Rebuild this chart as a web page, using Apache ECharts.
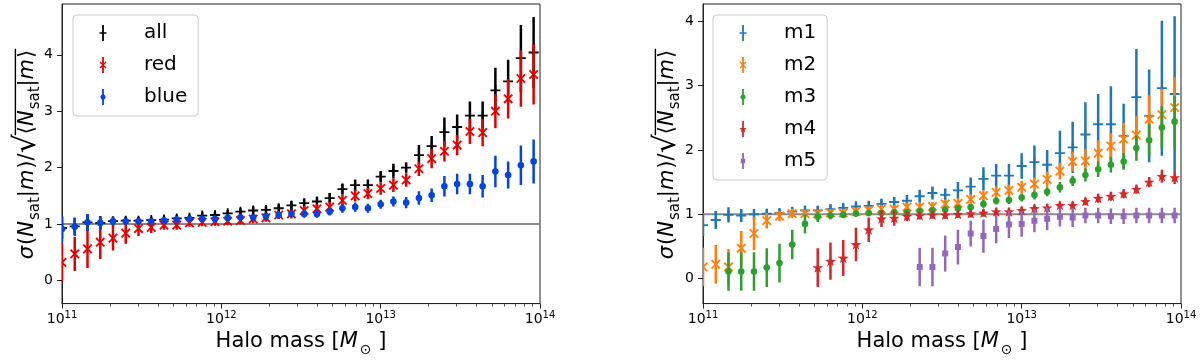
<!DOCTYPE html>
<html>
<head>
<meta charset="utf-8">
<script src="https://cdn.jsdelivr.net/npm/echarts@6.0.0/dist/echarts.min.js"></script>
<style>
  html, body { margin: 0; padding: 0; background: #fff; }
  #chart { width: 1200px; height: 362px; }
</style>
</head>
<body>
<div id="chart"></div>
<script>
// bin centres, log10(halo mass / Msun)
const logMass = [11.00, 11.08, 11.16, 11.24, 11.32, 11.40, 11.48, 11.56, 11.64, 11.72,
  11.80, 11.88, 11.96, 12.04, 12.12, 12.20, 12.28, 12.36, 12.44, 12.52,
  12.60, 12.68, 12.76, 12.84, 12.92, 13.00, 13.08, 13.16, 13.24, 13.32,
  13.40, 13.48, 13.56, 13.64, 13.72, 13.80, 13.88, 13.96];

// left panel: colour split
const allVals = [0.93, 0.96, 1.03, 1.02, 1.05, 1.06, 1.06, 1.07, 1.08, 1.10, 1.11, 1.15, 1.16, 1.19, 1.22, 1.24, 1.25, 1.28, 1.33, 1.37,
  1.40, 1.46, 1.62, 1.69, 1.69, 1.84, 1.94, 2.00, 2.22, 2.38, 2.63, 2.72, 2.92, 2.92, 3.37, 3.53, 3.94, 4.04];
const allErr = [0.20, 0.15, 0.14, 0.12, 0.08, 0.07, 0.06, 0.06, 0.06, 0.06, 0.06, 0.06, 0.06, 0.06, 0.06, 0.07, 0.07, 0.07, 0.08, 0.08,
  0.08, 0.09, 0.10, 0.10, 0.10, 0.10, 0.13, 0.09, 0.18, 0.18, 0.26, 0.22, 0.25, 0.25, 0.40, 0.38, 0.59, 0.63];
const redVals = [0.32, 0.47, 0.56, 0.68, 0.75, 0.84, 0.92, 0.94, 0.98, 0.98, 1.02, 1.03, 1.04, 1.05, 1.06, 1.09, 1.11, 1.16, 1.18, 1.24,
  1.27, 1.30, 1.42, 1.50, 1.54, 1.63, 1.69, 1.78, 1.98, 2.16, 2.29, 2.40, 2.64, 2.62, 3.00, 3.22, 3.58, 3.65];
const redErr = [0.34, 0.30, 0.34, 0.30, 0.22, 0.19, 0.13, 0.10, 0.08, 0.08, 0.07, 0.07, 0.07, 0.07, 0.07, 0.07, 0.07, 0.07, 0.08, 0.08,
  0.08, 0.09, 0.10, 0.10, 0.10, 0.11, 0.12, 0.12, 0.13, 0.17, 0.18, 0.18, 0.22, 0.24, 0.30, 0.35, 0.50, 0.53];
const blueVals = [0.91, 0.95, 1.03, 1.02, 1.05, 1.05, 1.05, 1.05, 1.06, 1.08, 1.09, 1.09, 1.09, 1.11, 1.12, 1.12, 1.14, 1.16, 1.18, 1.18,
  1.18, 1.22, 1.28, 1.30, 1.28, 1.35, 1.40, 1.38, 1.46, 1.51, 1.67, 1.71, 1.71, 1.67, 1.93, 1.87, 2.04, 2.11];
const blueErr = [0.23, 0.16, 0.15, 0.12, 0.08, 0.06, 0.06, 0.06, 0.06, 0.06, 0.06, 0.06, 0.06, 0.06, 0.06, 0.06, 0.06, 0.06, 0.06, 0.07,
  0.07, 0.07, 0.08, 0.08, 0.08, 0.08, 0.09, 0.10, 0.12, 0.12, 0.18, 0.18, 0.18, 0.20, 0.28, 0.24, 0.35, 0.39];

// right panel: magnitude bins
const m1Vals = [0.83, 0.91, 0.99, 0.98, 1.00, 1.01, 1.02, 1.04, 1.06, 1.06, 1.08, 1.10, 1.12, 1.13, 1.16, 1.19, 1.21, 1.28, 1.33, 1.30,
  1.37, 1.43, 1.55, 1.60, 1.60, 1.75, 1.81, 1.77, 1.95, 2.04, 2.24, 2.40, 2.40, 2.22, 2.82, 2.53, 2.96, 2.87];
const m1Err = [0.17, 0.14, 0.12, 0.10, 0.08, 0.07, 0.07, 0.07, 0.07, 0.07, 0.07, 0.07, 0.08, 0.08, 0.08, 0.08, 0.09, 0.10, 0.10, 0.10,
  0.13, 0.14, 0.18, 0.18, 0.18, 0.20, 0.26, 0.23, 0.35, 0.40, 0.50, 0.47, 0.59, 0.50, 0.75, 0.72, 1.05, 1.21];
const m2Vals = [0.18, 0.22, 0.18, 0.47, 0.70, 0.90, 0.97, 1.01, 1.01, 1.01, 1.02, 1.02, 1.04, 1.06, 1.08, 1.08, 1.11, 1.11, 1.12, 1.16,
  1.17, 1.23, 1.29, 1.34, 1.37, 1.42, 1.47, 1.54, 1.67, 1.82, 1.83, 1.95, 2.06, 2.17, 2.23, 2.48, 2.55, 2.66];
const m2Err = [0.30, 0.30, 0.28, 0.27, 0.26, 0.12, 0.08, 0.07, 0.06, 0.06, 0.06, 0.06, 0.06, 0.06, 0.06, 0.06, 0.07, 0.07, 0.07, 0.07,
  0.08, 0.08, 0.08, 0.09, 0.09, 0.10, 0.10, 0.12, 0.13, 0.15, 0.18, 0.20, 0.20, 0.25, 0.30, 0.37, 0.40, 0.47];
const m3Vals = [null, null, 0.11, 0.11, 0.11, 0.17, 0.24, 0.53, 0.85, 0.96, 0.98, 0.99, 1.01, 1.02, 1.02, 1.03, 1.03, 1.05, 1.06, 1.07,
  1.09, 1.11, 1.16, 1.21, 1.22, 1.26, 1.30, 1.35, 1.42, 1.52, 1.61, 1.70, 1.77, 1.82, 2.03, 2.15, 2.35, 2.44];
const m3Err = [null, null, 0.30, 0.30, 0.30, 0.30, 0.30, 0.23, 0.15, 0.08, 0.06, 0.05, 0.05, 0.05, 0.05, 0.05, 0.05, 0.05, 0.05, 0.05,
  0.05, 0.05, 0.06, 0.06, 0.06, 0.06, 0.07, 0.07, 0.08, 0.08, 0.10, 0.12, 0.12, 0.13, 0.20, 0.25, 0.33, 0.40];
const m4Vals = [null, null, null, null, null, null, null, null, null, 0.17, 0.27, 0.32, 0.53, 0.76, 0.93, 0.94, 0.97, 0.98, 0.99, 0.99,
  1.00, 1.01, 1.02, 1.04, 1.04, 1.06, 1.09, 1.10, 1.14, 1.14, 1.20, 1.25, 1.28, 1.32, 1.39, 1.50, 1.59, 1.57];
const m4Err = [null, null, null, null, null, null, null, null, null, 0.30, 0.29, 0.28, 0.26, 0.19, 0.13, 0.12, 0.08, 0.06, 0.06, 0.06,
  0.06, 0.06, 0.06, 0.06, 0.06, 0.06, 0.06, 0.06, 0.06, 0.06, 0.06, 0.07, 0.07, 0.07, 0.07, 0.08, 0.10, 0.10];
const m5Vals = [null, null, null, null, null, null, null, null, null, null, null, null, null, null, null, null, null, 0.18, 0.18, 0.39,
  0.49, 0.70, 0.66, 0.77, 0.84, 0.85, 0.90, 0.93, 0.96, 0.95, 0.98, 0.98, 0.97, 0.97, 0.98, 0.98, 0.98, 0.98];
const m5Err = [null, null, null, null, null, null, null, null, null, null, null, null, null, null, null, null, null, 0.30, 0.30, 0.28,
  0.27, 0.20, 0.26, 0.22, 0.21, 0.20, 0.18, 0.18, 0.15, 0.15, 0.12, 0.12, 0.12, 0.12, 0.12, 0.12, 0.12, 0.12];

const xTicks = [11, 12, 13, 14];
const yTicks = [0, 1, 2, 3, 4];
const refLevel = 1;

const leftSets = [
  {name: 'all', color: '#000000', marker: 'plus', y: allVals, e: allErr},
  {name: 'red', color: '#e50000', marker: 'cross', y: redVals, e: redErr},
  {name: 'blue', color: '#0343df', marker: 'dot', y: blueVals, e: blueErr}
];
const rightSets = [
  {name: 'm1', color: '#1f77b4', marker: 'plus', y: m1Vals, e: m1Err},
  {name: 'm2', color: '#ff7f0e', marker: 'cross', y: m2Vals, e: m2Err},
  {name: 'm3', color: '#2ca02c', marker: 'dot', y: m3Vals, e: m3Err},
  {name: 'm4', color: '#d62728', marker: 'star', y: m4Vals, e: m4Err},
  {name: 'm5', color: '#9467bd', marker: 'square', y: m5Vals, e: m5Err}
];

// minor ticks of a log axis (2..9 x 10^n)
const minorTicks = [];
for (let n = 11; n < 14; n++) {
  for (let m = 2; m <= 9; m++) minorTicks.push(n + Math.log10(m));
}

const FONT = '"DejaVu Sans", sans-serif';

function starPoints(cx, cy, ro, ri) {
  const pts = [];
  for (let i = 0; i < 10; i++) {
    const a = -Math.PI / 2 + i * Math.PI / 5;
    const r = i % 2 === 0 ? ro : ri;
    pts.push([cx + r * Math.cos(a), cy + r * Math.sin(a)]);
  }
  return pts;
}
function circlePoints(cx, cy, r) {
  const pts = [];
  for (let i = 0; i < 16; i++) {
    const a = i * Math.PI / 8;
    pts.push([cx + r * Math.cos(a), cy + r * Math.sin(a)]);
  }
  return pts;
}
function polyPath(pts) {
  return 'M' + pts.map(p => p[0].toFixed(2) + ',' + p[1].toFixed(2)).join('L') + 'Z';
}

// marker drawn on top of each error bar
function markerParts(kind, cx, cy, color) {
  const ln = (x1, y1, x2, y2) => ({type: 'line', shape: {x1, y1, x2, y2}, style: {stroke: color, lineWidth: 1.8}});
  if (kind === 'plus') return [ln(cx - 5, cy, cx + 5, cy), ln(cx, cy - 5, cx, cy + 5)];
  if (kind === 'cross') return [ln(cx - 4.2, cy - 4.2, cx + 4.2, cy + 4.2), ln(cx - 4.2, cy + 4.2, cx + 4.2, cy - 4.2)];
  if (kind === 'dot') return [{type: 'circle', shape: {cx, cy, r: 3.3}, style: {fill: color}}];
  if (kind === 'star') return [{type: 'polygon', shape: {points: starPoints(cx, cy + 0.5, 5.6, 2.3)}, style: {fill: color}}];
  return [{type: 'rect', shape: {x: cx - 3, y: cy - 3, width: 6, height: 6}, style: {fill: color}}];
}

// legend handle: bar plus a small marker, in an 8 x 16 box
function legendIcon(kind) {
  let p = 'M0,0M8,16M3.1,0H4.9V16H3.1Z';
  if (kind === 'plus') p += 'M0.5,7.2H7.5V8.8H0.5Z';
  else if (kind === 'cross') p += 'M1.46,4.54L7.46,10.54L6.54,11.46L0.54,5.46Z' + 'M7.46,5.46L1.46,11.46L0.54,10.54L6.54,4.54Z';
  else if (kind === 'dot') p += polyPath(circlePoints(4, 8, 2.6));
  else if (kind === 'star') p += polyPath(starPoints(4, 8.4, 3.8, 1.6));
  else p += 'M1.8,5.8H6.2V10.2H1.8Z';
  return 'path://' + p;
}

function makeSeries(set, g) {
  const data = [];
  logMass.forEach((x, i) => { if (set.y[i] != null) data.push([x, set.y[i], set.e[i]]); });
  return {
    name: set.name,
    type: 'custom',
    xAxisIndex: g * 2,
    yAxisIndex: g,
    clip: true,
    z: 3,
    itemStyle: {color: set.color},
    data: data,
    renderItem: function (params, api) {
      const x = api.value(0), y = api.value(1), e = api.value(2);
      const c = api.coord([x, y]);
      const top = api.coord([x, y + e])[1];
      const bot = api.coord([x, y - e])[1];
      const children = [{type: 'line', shape: {x1: c[0], y1: top, x2: c[0], y2: bot},
        style: {stroke: set.color, lineWidth: 2.5}}];
      return {type: 'group', children: children.concat(markerParts(set.marker, c[0], c[1], set.color))};
    }
  };
}

function refLine(g) {
  return {
    type: 'line', xAxisIndex: g * 2, yAxisIndex: g, z: 2, silent: true, symbol: 'none',
    lineStyle: {color: '#8a8a8a', width: 2},
    data: [[xTicks[0], refLevel], [xTicks[xTicks.length - 1], refLevel]]
  };
}

const grids = [
  {left: 62, top: 4, width: 478, height: 301},
  {left: 703, top: 4, width: 478, height: 301}
];
const yRanges = [[-0.41, 4.9], [-0.39, 4.27]];

const xAxes = [];
const yAxes = [];
grids.forEach((gr, g) => {
  xAxes.push({
    gridIndex: g, type: 'value', position: 'bottom', min: 11, max: 14, interval: 1,
    axisLine: {show: true, onZero: false, lineStyle: {color: '#222', width: 1}},
    axisTick: {show: true, length: 5, lineStyle: {color: '#222', width: 1}},
    splitLine: {show: false},
    axisLabel: {
      margin: 7, color: '#000',
      formatter: v => '{b|10}{p|' + v + '}',
      rich: {
        b: {fontSize: 14, lineHeight: 18, fontFamily: FONT, color: '#000'},
        p: {fontSize: 10, lineHeight: 12, verticalAlign: 'top', fontFamily: FONT, color: '#000'}
      }
    },
    name: '{rm|Halo mass [}{it|M}{sub|⊙}{rm| ]}',
    nameLocation: 'middle', nameGap: 22,
    nameTextStyle: {
      rich: {
        rm: {fontSize: 21, lineHeight: 30, fontFamily: FONT, color: '#000'},
        it: {fontSize: 21, lineHeight: 30, fontStyle: 'italic', fontFamily: FONT, color: '#000', padding: [0, 2, 0, 0]},
        sub: {fontSize: 14, lineHeight: 12, verticalAlign: 'bottom', fontFamily: FONT, color: '#000'}
      }
    }
  });
  xAxes.push({
    gridIndex: g, type: 'value', position: 'bottom', min: 11, max: 14,
    axisLine: {show: false, onZero: false},
    axisLabel: {show: false},
    splitLine: {show: false},
    axisTick: {show: true, length: 3, customValues: minorTicks, lineStyle: {color: '#222', width: 0.8}}
  });
  yAxes.push({
    gridIndex: g, type: 'value', min: yRanges[g][0], max: yRanges[g][1],
    axisLine: {show: true, onZero: false, lineStyle: {color: '#222', width: 1}},
    axisTick: {show: true, length: 5, customValues: yTicks, lineStyle: {color: '#222', width: 1}},
    splitLine: {show: false},
    axisLabel: {customValues: yTicks, fontSize: 14, fontFamily: FONT, color: '#000', margin: 9}
  });
});

// rotated y-axis title with a radical overline
const measureCtx = document.createElement('canvas').getContext('2d');
function textWidth(font, s) { measureCtx.font = font; return measureCtx.measureText(s).width; }

function yTitle(cx, cy) {
  const S = 21, SS = 15, SR = 30;
  const fonts = {
    it: 'italic ' + S + 'px ' + FONT,
    rm: S + 'px ' + FONT,
    sub: SS + 'px ' + FONT,
    rad: SR + 'px ' + FONT
  };
  const sizes = {it: S, rm: S, sub: SS, rad: SR};
  const drop = {it: 0, rm: 0, sub: 5, rad: 3};
  const pieces = [['σ', 'it'], ['(', 'rm'], ['N', 'it'], ['sat', 'sub'], ['|', 'rm'], ['m', 'it'], [')', 'rm'], ['/', 'rm'],
    ['√', 'rad'], ['⟨', 'rm'], ['N', 'it'], ['sat', 'sub'], ['|', 'rm'], ['m', 'it'], ['⟩', 'rm']];
  const widths = pieces.map(p => textWidth(fonts[p[1]], p[0]) + (p[1] === 'it' ? 1 : 0));
  const total = widths.reduce((a, b) => a + b, 0);
  const base = 6;
  let x = -total / 2;
  const children = [];
  let radEnd = 0;
  pieces.forEach((p, i) => {
    const k = p[1];
    children.push({
      type: 'text', x: x, y: base + drop[k] - 0.346 * sizes[k],
      style: {text: p[0], font: fonts[k], fill: '#000', align: 'left', verticalAlign: 'middle',
        textAlign: 'left', textVerticalAlign: 'middle'}
    });
    x += widths[i];
    if (p[0] === '√') radEnd = x;
  });
  children.push({
    type: 'line', shape: {x1: radEnd - 1, y1: base - 19.6, x2: x + 1, y2: base - 19.6},
    style: {stroke: '#000', lineWidth: 1.4}
  });
  return {type: 'group', x: cx, y: cy, rotation: Math.PI / 2, children: children};
}

function legendFor(sets, left) {
  return {
    data: sets.map(s => ({name: s.name, icon: legendIcon(s.marker), itemStyle: {color: s.color}})),
    orient: 'vertical', left: left, top: 15,
    itemWidth: 8, itemHeight: 16, itemGap: 10,
    padding: [7, 11, 8, 26],
    backgroundColor: 'rgba(255,255,255,0.8)', borderColor: '#cccccc', borderWidth: 1, borderRadius: 4,
    selectedMode: false,
    textStyle: {fontSize: 20, fontFamily: FONT, color: '#000', lineHeight: 22, padding: [0, 0, 0, 32]}
  };
}

const chart = echarts.init(document.getElementById('chart'), null, {renderer: 'canvas'});
chart.setOption({
  animation: false,
  backgroundColor: '#ffffff',
  textStyle: {fontFamily: FONT},
  grid: grids.map(gr => Object.assign({show: true, borderColor: '#222', borderWidth: 1, backgroundColor: 'transparent'}, gr)),
  xAxis: xAxes,
  yAxis: yAxes,
  legend: [legendFor(leftSets, 73), legendFor(rightSets, 713)],
  graphic: [yTitle(29, 154.5), yTitle(669, 154.5)],
  series: [refLine(0), refLine(1)]
    .concat(leftSets.map(s => makeSeries(s, 0)))
    .concat(rightSets.map(s => makeSeries(s, 1)))
});
</script>
</body>
</html>
